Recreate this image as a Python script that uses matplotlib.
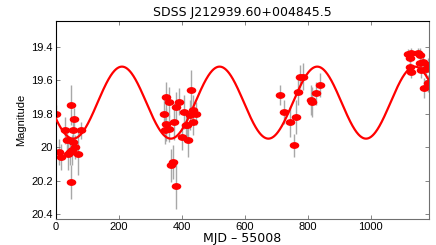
import numpy as np
import matplotlib
matplotlib.use('Agg')
import matplotlib.pyplot as plt
from matplotlib.path import Path
from matplotlib.transforms import Affine2D
from matplotlib.ticker import FuncFormatter

plt.rcParams['font.family'] = ['Liberation Sans', 'DejaVu Sans']

title = 'SDSS J212939.60+004845.5'

# observations: MJD - 55008, magnitude, error
mjd = [2, 10, 18, 28, 34, 38, 47, 47, 53, 58, 52, 55, 61, 71, 80, 44,
       343, 351, 351, 346, 359, 360, 365, 372, 381, 376, 383, 391, 402, 407,
       413, 420, 418, 425, 429, 436, 436, 444,
       713, 725, 745, 757, 762, 770, 775, 785, 811, 814, 827, 840,
       1118, 1129, 1150, 1156, 1124, 1156, 1166, 1182, 1174, 1124, 1127,
       1161, 1182, 1169]
mag = [19.80, 20.03, 20.06, 19.90, 19.96, 20.04, 19.75, 20.21, 19.90, 19.83,
       20.02, 19.97, 20.00, 20.04, 19.90, 20.03,
       19.805, 19.70, 19.865, 19.90, 19.73, 19.89, 20.11, 20.09, 19.76, 19.85,
       20.23, 19.73, 19.94, 19.79, 19.87, 19.96, 19.87, 19.81, 19.66, 19.78,
       19.85, 19.80,
       19.69, 19.79, 19.85, 19.99, 19.82, 19.67, 19.58, 19.58, 19.72, 19.73,
       19.68, 19.63,
       19.445, 19.44, 19.437, 19.45, 19.47, 19.50, 19.49, 19.51, 19.536,
       19.52, 19.55, 19.54, 19.62, 19.65]
err = [0.05, 0.08, 0.08, 0.08, 0.07, 0.10, 0.12, 0.10, 0.08, 0.06, 0.09,
       0.08, 0.07, 0.13, 0.05, 0.08,
       0.09, 0.09, 0.10, 0.08, 0.09, 0.08, 0.10, 0.10, 0.09, 0.11, 0.14,
       0.08, 0.08, 0.10, 0.07, 0.10, 0.08, 0.09, 0.12, 0.09, 0.08, 0.07,
       0.06, 0.07, 0.09, 0.07, 0.10, 0.08, 0.07, 0.08, 0.09, 0.09, 0.07,
       0.07,
       0.03, 0.03, 0.03, 0.04, 0.04, 0.05, 0.05, 0.04, 0.05, 0.04, 0.04,
       0.05, 0.05, 0.06]

# sinusoid fit
period = 310.0
t_peak = 210.0
mean_mag = 19.735
amp = 0.215

t = np.linspace(0, 1185, 1000)
model = mean_mag - amp * np.cos(2 * np.pi * (t - t_peak) / period)

oval = Path.unit_circle().transformed(Affine2D().scale(1.0, 0.66))

fig = plt.figure(figsize=(4.36, 2.45), dpi=100)
ax = fig.add_axes([0.128, 0.106, 0.856, 0.808])

ax.errorbar(mjd, mag, yerr=err, fmt='none', ecolor='#a8a8a8', elinewidth=1.0,
            capsize=0, zorder=1)
ax.plot(mjd, mag, linestyle='none', marker=oval, markersize=5.9,
        color='red', markeredgecolor='red', zorder=2)
ax.plot(t, model, color='red', lw=1.6, zorder=3)

ax.set_xlim(0, 1185)
ax.set_ylim(20.43, 19.248)
ax.set_xticks([0, 200, 400, 600, 800, 1000])
ax.set_yticks([19.4, 19.6, 19.8, 20.0, 20.2, 20.4])
ax.yaxis.set_major_formatter(FuncFormatter(lambda v, p: '%g' % round(v, 2)))

ax.tick_params(direction='in', length=3, width=0.6, labelsize=8,
               top=True, right=True, pad=2, colors='#707070',
               labelcolor='black')
for s in ['left', 'top']:
    ax.spines[s].set_color('black')
for s in ['bottom', 'right']:
    ax.spines[s].set_color('#707070')
for s in ax.spines.values():
    s.set_linewidth(0.8)

ax.set_title(title, fontsize=9, pad=4, family=['DejaVu Sans'])
ax.set_xlabel('MJD \u2013 55008', fontsize=9, labelpad=0, family=['DejaVu Sans'])
ax.set_ylabel('Magnitude', fontsize=8, labelpad=4)

fig.savefig('out.png', dpi=100)
